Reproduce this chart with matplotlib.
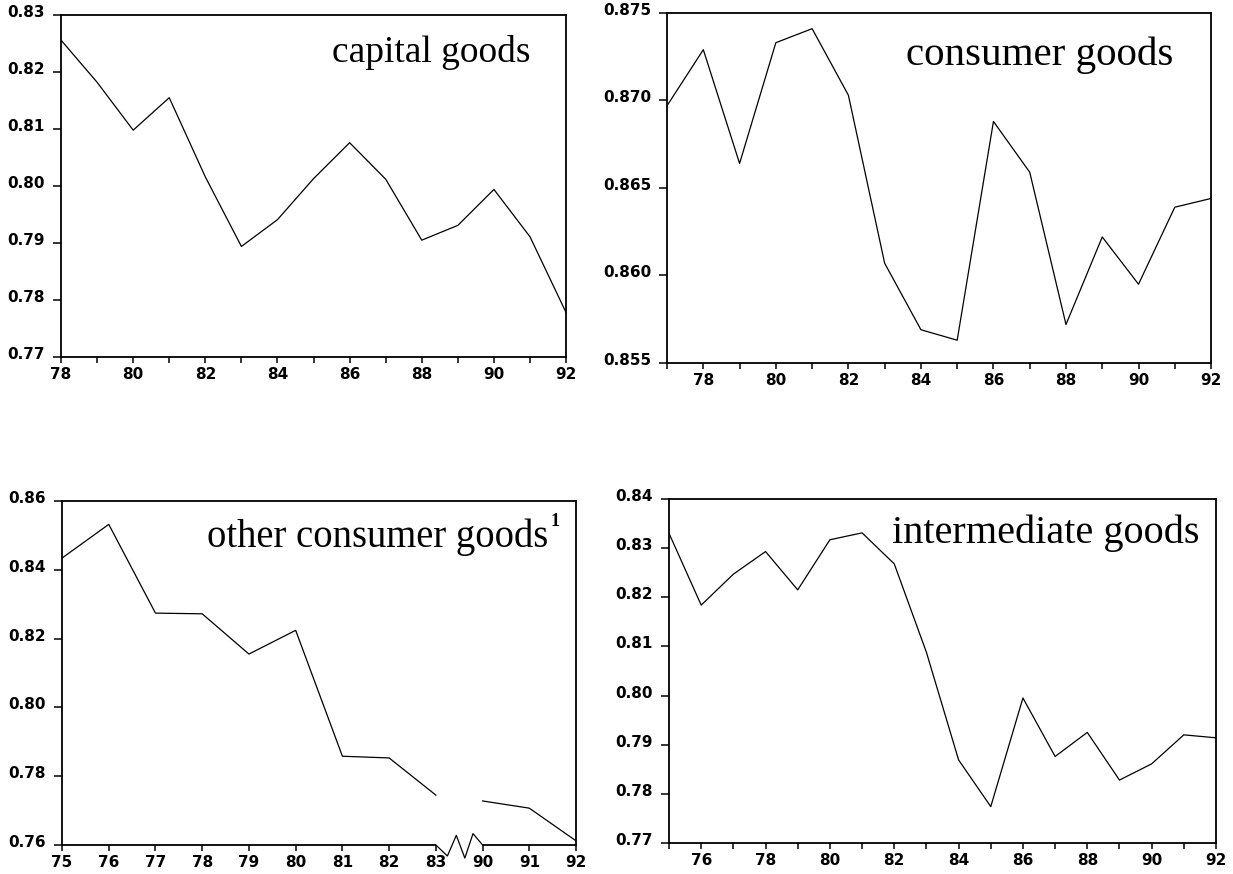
import numpy as np
import matplotlib
matplotlib.use("Agg")
import matplotlib.pyplot as plt
import matplotlib.transforms as mtransforms

# capital goods, 1978-1992
cap_years = list(range(78, 93))
cap_vals = [0.8256, 0.8182, 0.8098, 0.8155, 0.8016, 0.7894, 0.7941, 0.8013,
            0.8076, 0.8012, 0.7905, 0.7931, 0.7994, 0.7911, 0.7778]

# consumer goods, 1977-1992
con_years = list(range(77, 93))
con_vals = [0.8697, 0.8729, 0.8664, 0.8733, 0.8741, 0.8703, 0.8607, 0.8569,
            0.8563, 0.8688, 0.8659, 0.8572, 0.8622, 0.8595, 0.8639, 0.8644]

# other consumer goods, 1975-1983 and 1990-1992 (break in between)
oth_labels_a = ['75', '76', '77', '78', '79', '80', '81', '82', '83']
oth_vals_a = [0.8434, 0.8532, 0.8274, 0.8272, 0.8155, 0.8224, 0.7858, 0.7853, 0.7745]
oth_labels_b = ['90', '91', '92']
oth_vals_b = [0.7728, 0.7707, 0.7612]

# intermediate goods, 1975-1992
int_years = list(range(75, 93))
int_vals = [0.8330, 0.8184, 0.8247, 0.8293, 0.8215, 0.8317, 0.8331, 0.8268,
            0.8088, 0.7869, 0.7774, 0.7995, 0.7876, 0.7925, 0.7828, 0.7861,
            0.7920, 0.7914]

TICKFONT = {'family': 'DejaVu Sans', 'weight': 'bold', 'size': 11}
SERIF = 'Liberation Serif'
LW = 0.9

fig = plt.figure(figsize=(12.33, 8.74), dpi=100)
# y tick labels sit a few pixels above their ticks in the original
lift = mtransforms.ScaledTranslation(0, 4 / 100, fig.dpi_scale_trans)


def style_axes(ax):
    for sp in ax.spines.values():
        sp.set_linewidth(1.3)
    ax.tick_params(axis='y', direction='out', length=6, width=1.1, pad=5.5)
    ax.tick_params(axis='x', direction='out', length=4, width=1.1, pad=3)
    for lab in ax.get_xticklabels() + ax.get_yticklabels():
        lab.set_fontfamily(TICKFONT['family'])
        lab.set_fontweight(TICKFONT['weight'])
        lab.set_fontsize(TICKFONT['size'])
    for lab in ax.get_yticklabels():
        lab.set_transform(lab.get_transform() + lift)


# --- capital goods
ax1 = fig.add_axes([0.0495, 0.5915, 0.4096, 0.3913])
ax1.plot(cap_years, cap_vals, color='black', lw=LW)
ax1.set_xlim(78, 92)
ax1.set_ylim(0.77, 0.83)
ax1.set_xticks(range(78, 93))
ax1.set_xticklabels([str(y) if y % 2 == 0 else '' for y in range(78, 93)])
ax1.set_yticks(np.arange(0.77, 0.8301, 0.01))
ax1.set_yticklabels(['%.2f' % v for v in np.arange(0.77, 0.8301, 0.01)])
style_axes(ax1)
ax1.text(0.93, 0.89, 'capital goods', transform=ax1.transAxes, ha='right',
         va='center', family=SERIF, size=27)

# --- consumer goods
ax2 = fig.add_axes([0.541, 0.5847, 0.4412, 0.4005])
ax2.plot(con_years, con_vals, color='black', lw=LW)
ax2.set_xlim(77, 92)
ax2.set_ylim(0.855, 0.875)
ax2.set_xticks(range(77, 93))
ax2.set_xticklabels([str(y) if y % 2 == 0 else '' for y in range(77, 93)])
ax2.set_yticks(np.arange(0.855, 0.87501, 0.005))
ax2.set_yticklabels(['%.3f' % v for v in np.arange(0.855, 0.87501, 0.005)])
style_axes(ax2)
ax2.text(0.93, 0.88, 'consumer goods', transform=ax2.transAxes, ha='right',
         va='center', family=SERIF, size=29.5)

# --- other consumer goods (with axis break)
ax3 = fig.add_axes([0.0503, 0.0332, 0.4169, 0.3936])
n_a = len(oth_labels_a)
xa = np.arange(n_a)
xb = np.arange(n_a, n_a + len(oth_labels_b))
ax3.plot(xa, oth_vals_a, color='black', lw=LW)
ax3.plot(xb, oth_vals_b, color='black', lw=LW)
ax3.set_xlim(0, xb[-1])
ax3.set_ylim(0.76, 0.86)
ax3.set_xticks(np.concatenate([xa, xb]))
ax3.set_xticklabels(oth_labels_a + oth_labels_b)
ax3.set_yticks(np.arange(0.76, 0.8601, 0.02))
ax3.set_yticklabels(['%.2f' % v for v in np.arange(0.76, 0.8601, 0.02)])
style_axes(ax3)
ax3.spines['bottom'].set_visible(False)
trans = mtransforms.blended_transform_factory(ax3.transData, ax3.transAxes)
ax3.plot([0, xa[-1]], [0, 0], color='black', lw=1.3, transform=trans,
         clip_on=False, solid_capstyle='butt')
ax3.plot([xb[0], xb[-1]], [0, 0], color='black', lw=1.3, transform=trans,
         clip_on=False, solid_capstyle='butt')
# break zigzag
zx = xa[-1] + np.array([0, 0.247, 0.437, 0.62, 0.795, 1.0])
zy = np.array([0, -0.032, 0.028, -0.038, 0.033, 0])
ax3.plot(zx, zy, color='black', lw=LW, transform=trans, clip_on=False)
t3 = ax3.text(0.945, 0.895, 'other consumer goods', transform=ax3.transAxes,
              ha='right', va='center', family=SERIF, size=27.8)
ax3.annotate('1', xy=(1, 1), xycoords=t3, xytext=(2, -2),
             textcoords='offset points', ha='left', va='center',
             fontfamily=SERIF, fontweight='bold', fontsize=13)

# --- intermediate goods
ax4 = fig.add_axes([0.5426, 0.0355, 0.4436, 0.3936])
ax4.plot(int_years, int_vals, color='black', lw=LW)
ax4.set_xlim(75, 92)
ax4.set_ylim(0.77, 0.84)
ax4.set_xticks(range(75, 93))
ax4.set_xticklabels([str(y) if y % 2 == 0 else '' for y in range(75, 93)])
ax4.set_yticks(np.arange(0.77, 0.8401, 0.01))
ax4.set_yticklabels(['%.2f' % v for v in np.arange(0.77, 0.8401, 0.01)])
style_axes(ax4)
ax4.text(0.97, 0.90, 'intermediate goods', transform=ax4.transAxes,
         ha='right', va='center', family=SERIF, size=29)

fig.savefig('out.png', dpi=100, facecolor='white')
